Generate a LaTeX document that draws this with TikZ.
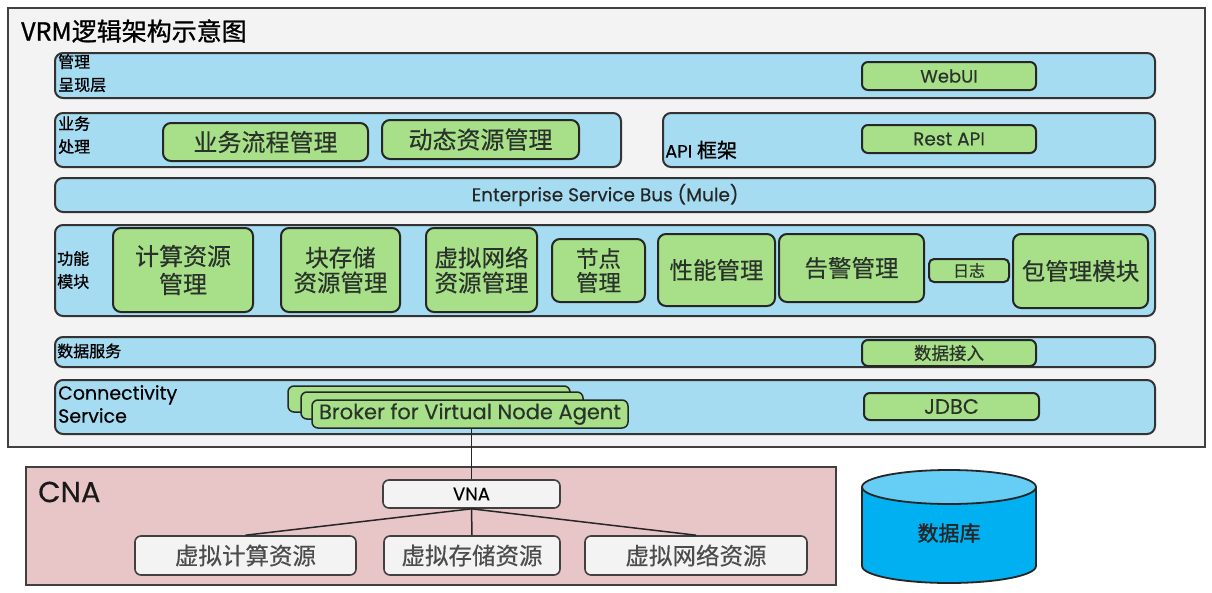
\documentclass[tikz,border=0pt]{standalone}
\usepackage{fontspec}
\setmainfont{Poppins}[FakeBold=0.3]
\newfontfamily\cjk{Noto Sans CJK SC}[FakeBold=0.4]
\newfontfamily\cjkb{Noto Sans CJK SC}[FakeBold=1.4]
\newfontfamily\cjkl{Noto Sans CJK SC}[FakeBold=1.0]
\definecolor{rowblue}{HTML}{A6DCF2}
\definecolor{gboxgreen}{HTML}{A8E08A}
\definecolor{frameg}{HTML}{F3F3F3}
\definecolor{cnapink}{HTML}{E8C5C6}
\definecolor{dbbody}{HTML}{00B0F0}
\definecolor{dbtop}{HTML}{66CDF4}
\definecolor{txt}{HTML}{2A332A}
\tikzset{
  row/.style={draw=black!80, line width=2pt, fill=rowblue, rounded corners=8pt, inner sep=0pt},
  gbox/.style={draw=black!85, line width=2pt, fill=gboxgreen, rounded corners=8pt, inner sep=0pt, text=txt, align=center},
  wbox/.style={draw=black!75, line width=1.6pt, fill=frameg, rounded corners=6pt, inner sep=0pt, text=black!70},
  lbl/.style={inner sep=0pt, align=left, text=black},
  conn/.style={draw=black!85, line width=1.5pt}
}
\begin{document}
\begin{tikzpicture}[x=1pt,y=-1pt]
\useasboundingbox (0,0) rectangle (1212,592);
\fill[white] (0,0) rectangle (1212,592);
% outer frame
\node[draw=black!75, line width=2pt, fill=frameg, minimum width=1197pt, minimum height=439pt, inner sep=0pt] (frame) at (606.5,227.5) {};
\node[lbl, anchor=west, font=\cjkl\fontsize{25}{27}\selectfont] (title) at (21,31) {VRM逻辑架构示意图};
% row 1
\node[row, minimum width=1100pt, minimum height=45pt] (r1) at (605,75.5) {};
\node[lbl, anchor=north west, font=\cjkl\fontsize{16}{23}\selectfont] (r1l) at (58,54) {管理\\呈现层};
\node[gbox, rounded corners=6pt, minimum width=174pt, minimum height=28pt, font=\fontsize{18}{20}\selectfont] (webui) at (949,76) {WebUI};
% row 2
\node[row, minimum width=566pt, minimum height=54pt] (r2a) at (338,140) {};
\node[lbl, anchor=north west, font=\cjkl\fontsize{16}{23}\selectfont] (r2al) at (58,116) {业务\\处理};
\node[gbox, minimum width=205pt, minimum height=38pt, font=\cjk\fontsize{24}{26}\selectfont] (bpm) at (265.5,142) {业务流程管理};
\node[gbox, minimum width=197pt, minimum height=39pt, font=\cjk\fontsize{24}{26}\selectfont] (drm) at (480.5,139.5) {动态资源管理};
\node[row, minimum width=492pt, minimum height=54pt] (r2b) at (909,140) {};
\node[lbl, anchor=west, font=\fontsize{18}{20}\selectfont] (r2bl) at (665,150) {API {\cjkl\fontsize{20}{22}\selectfont 框架}};
\node[gbox, rounded corners=6pt, minimum width=174pt, minimum height=28pt, font=\fontsize{18.5}{20}\selectfont] (rest) at (949,139) {Rest API};
% row 3
\node[row, minimum width=1100pt, minimum height=34pt, font=\fontsize{18.5}{20}\selectfont, text=black!85] (esb) at (605,195) {Enterprise Service Bus (Mule)};
% row 4
\node[row, minimum width=1100pt, minimum height=91pt] (r4) at (605,270.5) {};
\node[lbl, anchor=west, font=\cjkl\fontsize{16}{23}\selectfont] (r4l) at (57,270) {功能\\模块};
\node[gbox, minimum width=140pt, minimum height=84pt, font=\cjk\fontsize{24}{28}\selectfont] (m1) at (183,270) {计算资源\\管理};
\node[gbox, minimum width=119pt, minimum height=84pt, font=\cjk\fontsize{23.5}{25}\selectfont] (m2) at (340.5,270) {块存储\\资源管理};
\node[gbox, minimum width=111pt, minimum height=84pt, font=\cjk\fontsize{23.5}{25}\selectfont] (m3) at (481.5,270) {虚拟网络\\资源管理};
\node[gbox, minimum width=93pt, minimum height=63pt, font=\cjk\fontsize{22.5}{24}\selectfont] (m4) at (598.5,270.5) {节点\\管理};
\node[gbox, minimum width=117pt, minimum height=72pt, font=\cjk\fontsize{23.5}{25}\selectfont] (m5) at (716.5,270) {性能管理};
\node[gbox, minimum width=145pt, minimum height=68pt, font=\cjk\fontsize{23.5}{25}\selectfont] (m6) at (851.5,268) {告警管理};
\node[gbox, rounded corners=5pt, minimum width=80pt, minimum height=23pt, font=\cjk\fontsize{16}{18}\selectfont] (m7) at (969,270.5) {日志};
\node[gbox, minimum width=135pt, minimum height=74pt, font=\cjk\fontsize{23.5}{25}\selectfont] (m8) at (1080.5,271) {包管理模块};
% row 5
\node[row, minimum width=1100pt, minimum height=30pt] (r5) at (605,352) {};
\node[lbl, anchor=west, font=\cjkl\fontsize{16}{18}\selectfont] (r5l) at (57,351) {数据服务};
\node[gbox, rounded corners=6pt, minimum width=174pt, minimum height=26pt, font=\cjk\fontsize{17.5}{19}\selectfont] (dac) at (949,353) {数据接入};
% row 6
\node[row, minimum width=1100pt, minimum height=54pt] (r6) at (605,407) {};
\node[lbl, anchor=west, font=\fontsize{19}{23}\selectfont] (r6l) at (58,404) {Connectivity\\Service};
\node[gbox, rounded corners=6pt, line width=1.5pt, minimum width=282pt, minimum height=26pt] (bk1) at (429,399) {};
\node[gbox, rounded corners=6pt, line width=1.5pt, minimum width=282pt, minimum height=27pt] (bk2) at (442,405.5) {};
\node[gbox, rounded corners=6pt, line width=1.5pt, minimum width=316pt, minimum height=28pt, font=\fontsize{21}{23}\selectfont] (broker) at (470,414) {Broker for Virtual Node Agent};
\node[gbox, rounded corners=6pt, minimum width=175pt, minimum height=27pt, font=\fontsize{21}{23}\selectfont] (jdbc) at (951.5,406.5) {JDBC};
% CNA
\node[draw=black!75, line width=1.8pt, fill=cnapink, minimum width=810pt, minimum height=118pt, inner sep=0pt] (cna) at (431,526) {};
\node[lbl, anchor=west, font=\fontsize{29}{31}\selectfont, text=black!90] (cnal) at (38,492) {CNA};
\node[wbox, minimum width=177pt, minimum height=28pt, font=\fontsize{18}{20}\selectfont, text=black] (vna) at (471.5,494) {VNA};
\node[wbox, minimum width=221pt, minimum height=39pt, font=\cjk\fontsize{23.5}{25}\selectfont] (c1) at (245.5,555.5) {虚拟计算资源};
\node[wbox, minimum width=176pt, minimum height=39pt, font=\cjk\fontsize{23.5}{25}\selectfont] (c2) at (472,555.5) {虚拟存储资源};
\node[wbox, minimum width=222pt, minimum height=39pt, font=\cjk\fontsize{23.5}{25}\selectfont] (c3) at (696,555.5) {虚拟网络资源};
\draw[conn] (broker.south -| vna.north) -- (vna.north);
\draw[conn] (vna.south) -- (c1.north);
\draw[conn] (vna.south) -- (c2.north);
\draw[conn] (vna.south) -- (c3.north);
% database
\draw[line width=1.8pt, draw=black!85, fill=dbbody] (949,566) ellipse [x radius=87, y radius=17];
\fill[dbbody] (862,487) rectangle (1036,566);
\draw[line width=1.8pt, draw=black!85] (862,487) -- (862,566) (1036,487) -- (1036,566);
\draw[line width=1.8pt, draw=black!85, fill=dbtop] (949,487) ellipse [x radius=87, y radius=17];
\node[inner sep=0pt, font=\cjkb\fontsize{21}{23}\selectfont, text=black!85] (db) at (949,533) {数据库};
\end{tikzpicture}
\end{document}
